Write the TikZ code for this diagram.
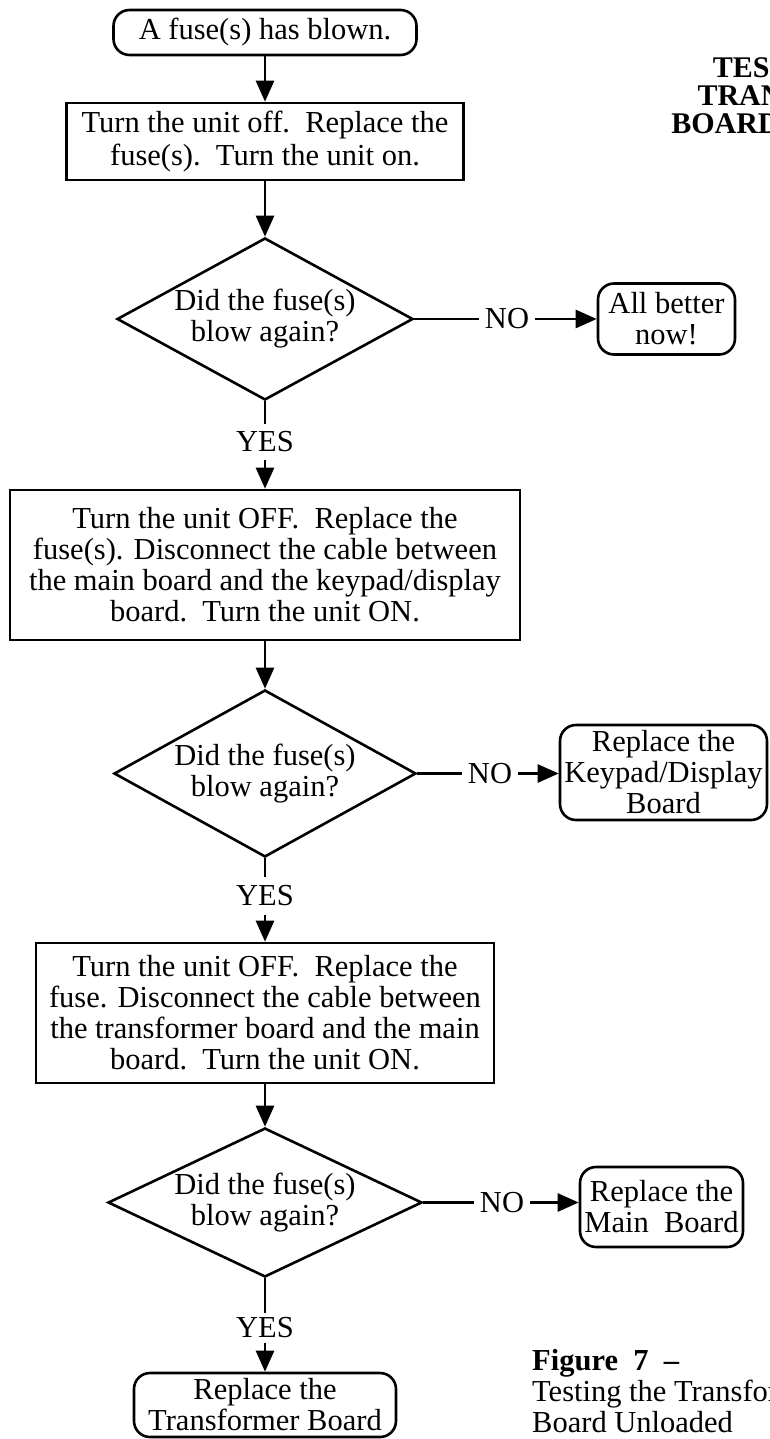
\documentclass[tikz,border=0pt]{standalone}
\usepackage{fontspec}
\setmainfont{Liberation Serif}
\usetikzlibrary{shapes.geometric,arrows.meta}
\begin{document}
\begin{tikzpicture}[x=1pt,y=-1pt,
  every node/.style={font=\fontsize{30.5}{31}\selectfont, inner sep=0pt},
  base/.style={draw, line width=2.6pt, align=center},
  proc/.style={base, rectangle},
  term/.style={base, rectangle, rounded corners=16pt},
  dec/.style={draw, line width=2.6pt, diamond, inner sep=0pt},
  lbl/.style={inner xsep=6pt},
  conn/.style={line width=2.6pt},
  arr/.style={conn, -{Triangle[length=21pt,width=18pt]}},
]
\fill[white] (0,0) rectangle (769,1439);
\useasboundingbox (0,0) rectangle (769,1439);

% title (cut by the page edge, as in the reference)
\node[font=\bfseries\fontsize{30}{28}\selectfont, align=center] (title) at (815,96) {TESTING THE\\TRANSFORMER\\BOARD UNLOADED};

% main column
\node[term, minimum width=303pt, minimum height=45pt] (start) at (265,32.5) {A fuse(s) has blown.};
\node[proc, minimum width=397pt, minimum height=77pt] (b1) at (265,141.5) {Turn the unit off.\ \ Replace the\\[2pt]fuse(s).\ \ Turn the unit on.};

\node[dec, minimum width=296pt, minimum height=162pt] (d1) at (265,319) {};
\node[align=center] (t1) at (d1.center) {Did the fuse(s)\\blow again?};
\node[lbl] (no1) at (507,319) {NO};
\node[term, minimum width=137pt, minimum height=71pt] (ab) at (666.5,319) {All better\\now!};
\node[minimum height=36pt] (yes1) at (265,442) {YES};

\node[proc, minimum width=510pt, minimum height=150pt] (b2) at (265,565) {Turn the unit OFF.\ \ Replace the\\fuse(s). Disconnect the cable between\\the main board and the keypad/display\\board.\ \ Turn the unit ON.};

\node[dec, minimum width=302pt, minimum height=167pt] (d2) at (265,773.5) {};
\node[align=center] (t2) at (d2.center) {Did the fuse(s)\\blow again?};
\node[lbl] (no2) at (490,773.5) {NO};
\node[term, minimum width=207pt, minimum height=95pt] (kp) at (663.5,772.5) {Replace the\\Keypad/Display\\Board};
\node[minimum height=38pt] (yes2) at (265,896) {YES};

\node[proc, minimum width=458pt, minimum height=140pt] (b3) at (265,1013) {Turn the unit OFF.\ \ Replace the\\fuse. Disconnect the cable between\\the transformer board and the main\\board.\ \ Turn the unit ON.};

\node[dec, minimum width=314pt, minimum height=149pt] (d3) at (265,1202.5) {};
\node[align=center] (t3) at (d3.center) {Did the fuse(s)\\blow again?};
\node[lbl] (no3) at (502,1202.5) {NO};
\node[term, minimum width=163pt, minimum height=80pt] (mb) at (661.5,1207) {Replace the\\Main\ \ Board};
\node[minimum height=30pt] (yes3) at (265,1328) {YES};
\node[term, minimum width=262pt, minimum height=64pt] (tb) at (265,1405) {Replace the\\Transformer Board};

% caption (cut by the page edge, as in the reference)
\node[align=left, anchor=west] (cap) at (532,1391) {\textbf{Figure\ \ 7\ \ –}\\Testing the Transformer\\Board Unloaded};

% connectors
\draw[arr] (start.south) -- (b1.north);
\draw[arr] (b1.south) -- (d1.north);
\draw[conn] (d1.east) -- (no1.west);
\draw[arr] (no1.east) -- (no1.east -| ab.west);
\draw[conn] (d1.south) -- (yes1.north);
\draw[arr] (yes1.south) -- (b2.north);
\draw[arr] (b2.south) -- (d2.north);
\draw[conn] (d2.east) -- (no2.west);
\draw[arr] (no2.east) -- (no2.east -| kp.west);
\draw[conn] (d2.south) -- (yes2.north);
\draw[arr] (yes2.south) -- (b3.north);
\draw[arr] (b3.south) -- (d3.north);
\draw[conn] (d3.east) -- (no3.west);
\draw[arr] (no3.east) -- (no3.east -| mb.west);
\draw[conn] (d3.south) -- (yes3.north);
\draw[arr] (yes3.south) -- (tb.north);
\end{tikzpicture}
\end{document}
